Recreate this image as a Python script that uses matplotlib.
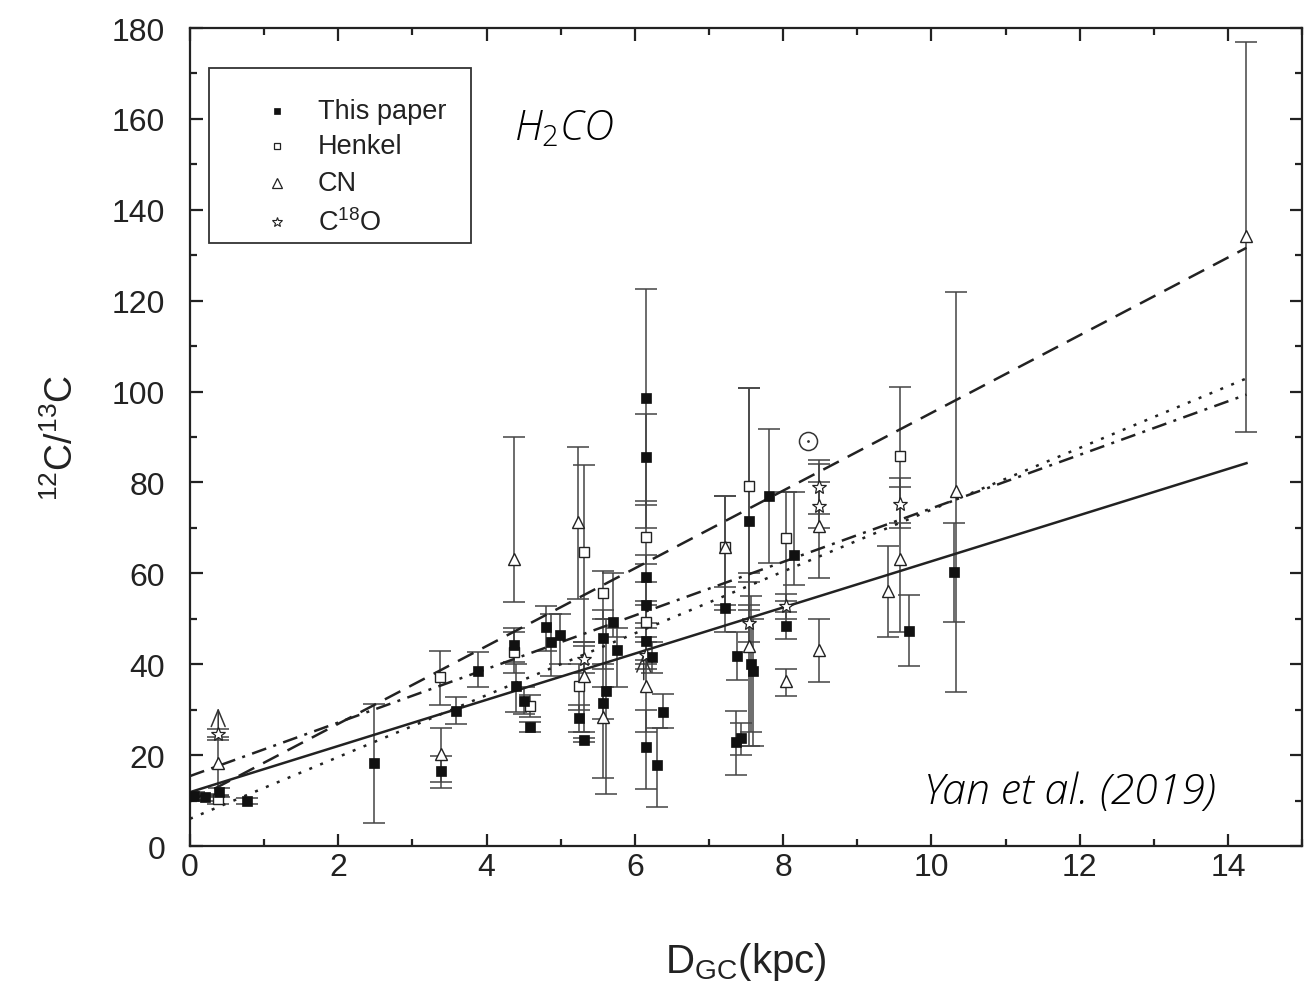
import numpy as np
import matplotlib
matplotlib.use("Agg")
import matplotlib.pyplot as plt
from matplotlib.patches import Rectangle
from matplotlib.ticker import MultipleLocator

# ---------------- data ----------------
# This paper (filled squares): x, y, lower end, upper end of error bar
tp_x  = [0.05, 0.20, 0.39, 0.77, 2.48, 3.39, 3.59, 3.89, 4.37, 4.40, 4.51, 4.58, 4.80, 4.87, 4.99,
         5.24, 5.32, 5.57, 5.70, 5.76, 5.61, 5.57, 6.15, 6.15, 6.15, 6.15, 6.15, 6.23, 6.15, 6.30,
         6.38, 7.21, 7.54, 7.56, 7.60, 7.38, 7.36, 7.43, 7.81, 8.14, 8.04, 9.70, 10.30]
tp_y  = [11.0, 10.8, 11.8, 9.9, 18.3, 16.5, 29.7, 38.5, 44.2, 35.2, 32.0, 26.2, 48.2, 44.9, 46.5,
         28.2, 23.3, 45.8, 49.3, 43.1, 34.1, 31.5, 98.6, 85.6, 59.2, 53.0, 45.1, 41.6, 21.8, 17.8,
         29.5, 52.4, 71.5, 40.0, 38.5, 41.8, 22.9, 23.8, 77.0, 64.0, 48.4, 47.3, 60.3]
tp_lo = [10.2, 10.0, 10.8, 9.3, 5.1, 12.8, 26.8, 35.0, 40.5, 29.5, 29.0, 25.2, 43.0, 37.4, 40.0,
         25.0, 22.8, 39.0, 46.0, 35.0, 11.5, 28.0, 75.0, 70.0, 54.0, 48.0, 41.0, 38.0, 12.5, 8.6,
         26.0, 47.0, 52.0, 25.0, 22.0, 36.5, 15.6, 20.0, 62.3, 57.4, 45.6, 39.6, 49.3]
tp_hi = [11.8, 11.5, 12.8, 10.5, 31.2, 19.8, 32.8, 42.7, 48.0, 40.0, 35.0, 27.2, 52.8, 51.0, 51.0,
         31.0, 23.8, 52.0, 60.0, 48.0, 50.0, 35.0, 122.6, 95.0, 64.0, 58.0, 49.0, 45.0, 30.0, 26.0,
         33.5, 57.0, 100.8, 55.0, 50.0, 47.1, 29.7, 27.0, 91.8, 77.9, 51.4, 55.2, 71.0]

# Henkel (open squares)
hk_x  = [0.38, 3.37, 4.37, 4.58, 5.32, 5.24, 5.57, 6.15, 6.15, 7.21, 7.54, 8.04, 9.58]
hk_y  = [10.3, 37.2, 42.7, 30.9, 64.7, 35.2, 55.7, 68.0, 49.3, 65.8, 79.2, 67.8, 85.8]
hk_lo = [9.3, 31.0, 38.0, 28.5, 45.0, 30.0, 50.0, 62.0, 46.0, 53.0, 58.0, 54.0, 71.0]
hk_hi = [11.3, 43.0, 47.0, 33.2, 83.8, 40.0, 60.5, 76.0, 53.0, 77.0, 100.8, 78.0, 101.0]

# CN (open triangles)
cn_x  = [0.38, 3.39, 4.37, 5.23, 5.32, 5.57, 6.15, 7.21, 7.54, 8.04, 8.48, 8.48, 9.41, 9.58, 10.33, 14.25]
cn_y  = [18.2, 20.2, 63.2, 71.3, 37.4, 28.4, 35.2, 65.8, 44.0, 36.3, 70.4, 43.1, 56.1, 63.2, 78.1, 134.2]
cn_lo = [11.0, 14.0, 53.7, 54.3, 25.0, 15.0, 25.0, 52.0, 22.0, 33.0, 59.0, 36.1, 46.0, 47.0, 33.9, 91.0]
cn_hi = [24.0, 26.0, 90.0, 87.8, 45.0, 40.0, 40.0, 77.0, 60.0, 38.9, 84.0, 50.0, 66.0, 79.0, 122.0, 177.0]

# C18O (open stars)
co_x  = [0.38, 5.32, 6.15, 7.54, 8.04, 8.48, 8.48, 9.58]
co_y  = [24.6, 41.2, 42.0, 49.0, 52.8, 79.0, 74.8, 75.3]
co_lo = [23.3, 38.0, 39.0, 45.0, 50.0, 73.0, 70.0, 70.0]
co_hi = [25.8, 44.0, 45.0, 53.0, 55.5, 85.0, 80.0, 81.0]

# lower-limit arrows (x, y start, y end)
arrow_x  = [0.38, 6.12]
arrow_y0 = [24.0, 36.0]
arrow_y1 = [31.0, 43.0]

# Sun
sun_x, sun_y = 8.33, 89.1

# linear fits: slope, intercept, style
fit_slope = [5.08, 8.55, 6.80, 5.89]
fit_inter = [11.86, 9.8, 6.0, 15.4]
fit_style = ['-', (0, (7, 4)), (0, (1.2, 3.5)), (0, (6, 3, 1.2, 3))]
fit_xmax = 14.25

xticks = [0, 2, 4, 6, 8, 10, 12, 14]
yticks = [0, 20, 40, 60, 80, 100, 120, 140, 160, 180]

legend_labels = ['This paper', 'Henkel', 'CN', r'C$^{\mathregular{18}}$O']

# ---------------- plot ----------------
plt.rcParams['font.family'] = ['Liberation Sans', 'DejaVu Sans']
plt.rcParams['mathtext.fontset'] = 'custom'
plt.rcParams['mathtext.it'] = 'Open Sans:italic:light'
plt.rcParams['mathtext.rm'] = 'Open Sans:light'
fig = plt.figure(figsize=(13.06, 9.87), dpi=100)
ax = fig.add_axes([0.1455, 0.1418, 0.8515, 0.8288])

ecol = '#444444'
sq_f = dict(marker='s', ms=7.5, mfc='#111111', mec='#111111', mew=0.5)
sq_o = dict(marker='s', ms=7.5, mfc='white', mec='#222222', mew=1.0)
tri_o = dict(marker='^', ms=9, mfc='white', mec='#222222', mew=1.0)
star_o = dict(marker='*', ms=10, mfc='white', mec='#222222', mew=0.9)

def eb(x, y, lo, hi, sty):
    x = np.array(x); y = np.array(y); lo = np.array(lo); hi = np.array(hi)
    ax.errorbar(x, y, yerr=[y - lo, hi - y], fmt='none', ecolor=ecol,
                elinewidth=1.1, capsize=8, capthick=1.1, zorder=2)
    ax.plot(x, y, linestyle='none', zorder=4, **sty)

eb(hk_x, hk_y, hk_lo, hk_hi, sq_o)
eb(cn_x, cn_y, cn_lo, cn_hi, tri_o)
eb(co_x, co_y, co_lo, co_hi, star_o)
eb(tp_x, tp_y, tp_lo, tp_hi, sq_f)

for ax_, y0, y1 in zip(arrow_x, arrow_y0, arrow_y1):
    ax.annotate('', xy=(ax_, y1), xytext=(ax_, y0),
                arrowprops=dict(arrowstyle='->,head_length=1.2,head_width=0.5',
                                color='#333333', lw=1.1), zorder=3)

ax.plot([sun_x], [sun_y], marker='o', ms=13, mfc='white', mec='#333333', mew=1.1, zorder=4)
ax.plot([sun_x], [sun_y], marker='.', ms=2, color='#333333', zorder=5)

xf = np.array([0, fit_xmax])
for s, b, ls in zip(fit_slope, fit_inter, fit_style):
    ax.plot(xf, s * xf + b, linestyle=ls, color='#222222', lw=1.8, zorder=3)

ax.set_xlim(0, 15)
ax.set_ylim(0, 180)
ax.set_xticks(xticks)
ax.set_yticks(yticks)
ax.xaxis.set_minor_locator(MultipleLocator(1))
ax.yaxis.set_minor_locator(MultipleLocator(10))
ax.tick_params(which='both', direction='in', top=True, right=True, width=1.6, colors='#222222',
               labelsize=23, labelcolor='#222222')
ax.tick_params(which='major', length=9)
ax.tick_params(which='minor', length=5)
ax.tick_params(axis='x', which='major', pad=4)
ax.tick_params(axis='y', which='major', pad=18)
for sp in ax.spines.values():
    sp.set_linewidth(1.6)
    sp.set_color('#222222')

ax.set_xlabel(r'D$_{\mathregular{GC}}$(kpc)', fontsize=29, color='#222222', labelpad=42)
ax.set_ylabel(r'$^{\mathregular{12}}$C/$^{\mathregular{13}}$C', fontsize=27, color='#222222', labelpad=22)

# legend (drawn manually in axes coordinates to match the reference box)
ax.add_patch(Rectangle((0.0171, 0.7372), 0.2356, 0.2139, transform=ax.transAxes,
                       facecolor='white', edgecolor='#333333', lw=1.3, zorder=6))
leg_rows = [0.8985, 0.8557, 0.8105, 0.7628]
leg_styles = [dict(sq_f, ms=5), dict(sq_o, ms=5, mew=0.9), dict(tri_o, ms=6.5, mew=0.9),
              dict(star_o, ms=7.5, mew=0.8)]
for yy, lab, sty in zip(leg_rows, legend_labels, leg_styles):
    ax.plot([0.0782], [yy], transform=ax.transAxes, linestyle='none', zorder=7, **sty)
    ax.text(0.1151, yy, lab, transform=ax.transAxes, fontsize=19.5, color='#222222',
            ha='left', va='center', zorder=7)

ax.text(0.291, 0.878, r'$H_{2}CO$', transform=ax.transAxes, fontsize=30,
        color='#000000', ha='left', va='center')
ax.text(0.923, 0.066, 'Yan et al. (2019)', transform=ax.transAxes, fontsize=31,
        family='Open Sans', fontweight='light', style='italic', color='#000000',
        ha='right', va='center')

fig.savefig('out.png', dpi=100)
